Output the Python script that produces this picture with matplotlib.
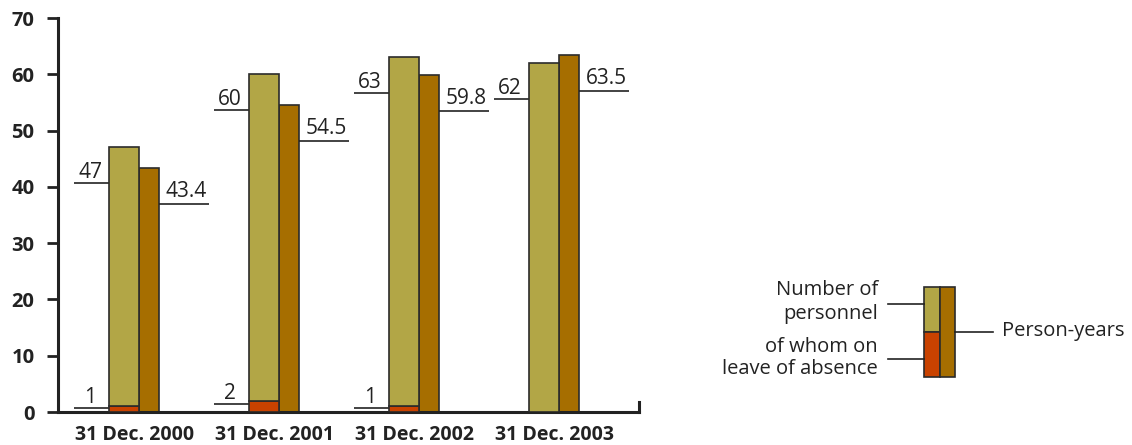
import matplotlib.pyplot as plt
import numpy as np

plt.rcParams['font.family'] = ['Open Sans', 'DejaVu Sans']

# data
dates = ["31 Dec. 2000", "31 Dec. 2001", "31 Dec. 2002", "31 Dec. 2003"]
personnel = [47, 60, 63, 62]
on_leave = [1, 2, 1, 0]
person_years = [43.4, 54.5, 59.8, 63.5]
personnel_labels = ["47", "60", "63", "62"]
person_years_labels = ["43.4", "54.5", "59.8", "63.5"]
on_leave_labels = ["1", "2", "1", ""]

green = "#b2a646"
brown = "#a66e00"
red = "#c94200"
edge = "#2b2b2b"
ink = "#222222"

figure = plt.figure(figsize=(11.32, 4.45), dpi=100)
# axes placed to match the original pixel layout
axis = figure.add_axes([58 / 1132, 1 - 412 / 445, (639 - 58) / 1132, (412 - 18) / 445])

x = np.arange(len(dates))
gw = 30 / 140   # green bar width
bw = 20 / 140   # brown bar width

axis.bar(x, on_leave, gw, color=red, edgecolor=edge, linewidth=1.2, zorder=3)
axis.bar(x, np.array(personnel) - np.array(on_leave), gw, bottom=on_leave,
         color=green, edgecolor=edge, linewidth=1.2, zorder=3)
axis.bar(x + (gw + bw) / 2, person_years, bw, color=brown, edgecolor=edge,
         linewidth=1.2, zorder=2)

# label lines with numbers (line sits a bit below the bar top)
lw = 1.2
drop = 6.4
for i in range(len(dates)):
    gl = x[i] - gw / 2
    br = x[i] + gw / 2 + bw
    # personnel, left side
    y = personnel[i] - drop
    axis.plot([gl - 0.25, gl], [y, y], color=ink, lw=lw, solid_capstyle="butt")
    axis.annotate(personnel_labels[i], (gl - 0.135, y), xytext=(0, 3.8),
                  textcoords="offset points", ha="center", va="baseline",
                  fontsize=15, color=ink)
    # person-years, right side
    y = person_years[i] - drop
    axis.plot([br, br + 0.36], [y, y], color=ink, lw=lw, solid_capstyle="butt")
    axis.annotate(person_years_labels[i], (br + 0.195, y), xytext=(0, 5),
                  textcoords="offset points", ha="center", va="baseline",
                  fontsize=15, color=ink)
    # on leave
    if on_leave[i] > 0:
        y = on_leave[i] * 0.7
        axis.plot([gl - 0.25, gl], [y, y], color=ink, lw=lw, solid_capstyle="butt")
        axis.annotate(on_leave_labels[i], (gl - 0.135, y), xytext=(0, 3.8),
                      textcoords="offset points", ha="center", va="baseline",
                      fontsize=15, color=ink)

axis.set_xlim(-66 / 140, (639 - 124) / 140)
axis.set_ylim(0, 70)
axis.set_yticks(range(0, 80, 10))
axis.set_xticks(x + 0.075)
axis.set_xticklabels(dates, fontweight="bold", fontsize=14, color=ink)
for t in axis.get_yticklabels():
    t.set_fontweight("bold")
    t.set_fontsize(14.5)
    t.set_color(ink)
axis.tick_params(axis="y", length=8, width=2, pad=9, color=ink)
axis.tick_params(axis="x", length=0, pad=9)

axis.spines["top"].set_visible(False)
axis.spines["left"].set_linewidth(2.2)
axis.spines["bottom"].set_linewidth(2.2)
axis.spines["right"].set_linewidth(2.2)
axis.spines["right"].set_bounds(0, 1.8)
for s in ["left", "bottom", "right"]:
    axis.spines[s].set_color(ink)

# legend drawn in pixel space
leg = figure.add_axes([0, 0, 1, 1])
leg.set_xlim(0, 1132)
leg.set_ylim(445, 0)
leg.axis("off")
leg.add_patch(plt.Rectangle((924, 287), 16, 45, facecolor=green, edgecolor=edge, lw=1.2))
leg.add_patch(plt.Rectangle((924, 332), 16, 45, facecolor=red, edgecolor=edge, lw=1.2))
leg.add_patch(plt.Rectangle((940, 287), 15, 90, facecolor=brown, edgecolor=edge, lw=1.2))
leg.plot([888, 924], [304, 304], color=ink, lw=lw)
leg.plot([888, 924], [359, 359], color=ink, lw=lw)
leg.plot([955, 993], [332, 332], color=ink, lw=lw)
leg.text(878, 302, "Number of\npersonnel", ha="right", va="center", fontsize=14.5,
         color=ink, linespacing=1.3)
leg.text(878, 358, "of whom on\nleave of absence", ha="right", va="center", fontsize=14.5,
         color=ink, linespacing=1.2)
leg.text(1002, 331, "Person-years", ha="left", va="center", fontsize=14.5, color=ink)

plt.savefig("out.png", dpi=100)
